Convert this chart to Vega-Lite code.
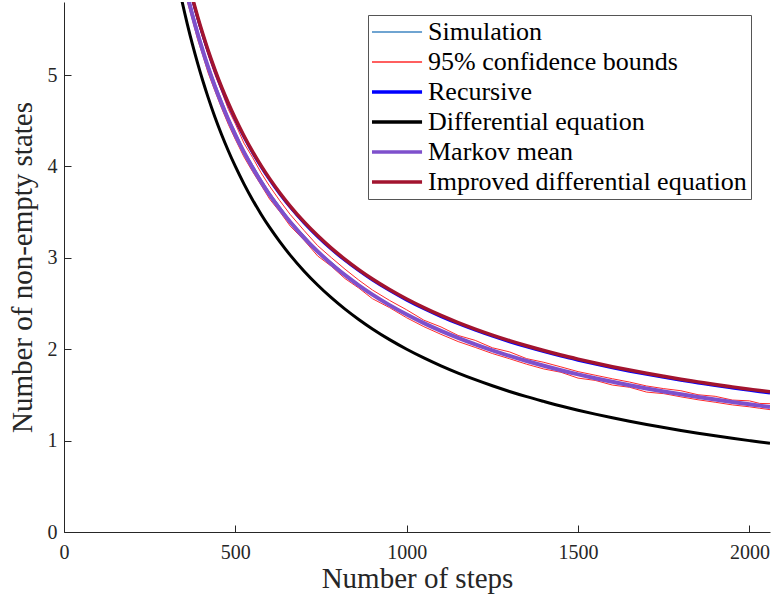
{
  "$schema": "https://vega.github.io/schema/vega-lite/v6.json",
  "width": 706,
  "height": 530,
  "autosize": "none",
  "padding": {"left": 64, "top": 2, "right": 4, "bottom": 72},
  "config": {
    "font": "Liberation Serif",
    "view": {"stroke": null},
    "axis": {
      "grid": false,
      "domainColor": "#262626",
      "domainWidth": 1,
      "tickColor": "#262626",
      "tickWidth": 1,
      "tickSize": -7,
      "labelColor": "#262626",
      "titleColor": "#262626",
      "labelFont": "Liberation Serif",
      "titleFont": "Liberation Serif",
      "labelFontSize": 20,
      "titleFontSize": 29,
      "titleFontWeight": "normal",
      "labelFlush": false
    },
    "legend": {
      "orient": "none",
      "legendX": 304,
      "legendY": 13,
      "symbolType": "M-1,0H2.85",
      "symbolSize": 676,
      "symbolFillColor": "transparent",
      "rowPadding": 4,
      "padding": 4,
      "labelOffset": 30,
      "labelFont": "Liberation Serif",
      "labelFontSize": 26,
      "labelColor": "#000000",
      "strokeColor": "#555555",
      "fillColor": "#ffffff",
      "labelLimit": 400
    }
  },
  "data": {
    "values": [
      {"x": 330, "sim": 6.408, "hi": 6.521, "lo": 6.296, "rec": 6.548, "de": 6.061, "mm": 6.368, "ide": 6.560},
      {"x": 345, "sim": 6.154, "hi": 6.259, "lo": 6.050, "rec": 6.288, "de": 5.797, "mm": 6.109, "ide": 6.300},
      {"x": 360, "sim": 5.908, "hi": 6.016, "lo": 5.801, "rec": 6.049, "de": 5.556, "mm": 5.872, "ide": 6.061},
      {"x": 375, "sim": 5.699, "hi": 5.799, "lo": 5.600, "rec": 5.830, "de": 5.333, "mm": 5.653, "ide": 5.842},
      {"x": 390, "sim": 5.490, "hi": 5.593, "lo": 5.388, "rec": 5.627, "de": 5.128, "mm": 5.452, "ide": 5.639},
      {"x": 405, "sim": 5.309, "hi": 5.404, "lo": 5.215, "rec": 5.440, "de": 4.938, "mm": 5.265, "ide": 5.452},
      {"x": 420, "sim": 5.126, "hi": 5.224, "lo": 5.029, "rec": 5.265, "de": 4.762, "mm": 5.092, "ide": 5.277},
      {"x": 440, "sim": 4.918, "hi": 5.007, "lo": 4.830, "rec": 5.052, "de": 4.545, "mm": 4.880, "ide": 5.064},
      {"x": 460, "sim": 4.728, "hi": 4.820, "lo": 4.637, "rec": 4.856, "de": 4.348, "mm": 4.686, "ide": 4.868},
      {"x": 480, "sim": 4.538, "hi": 4.621, "lo": 4.456, "rec": 4.678, "de": 4.167, "mm": 4.508, "ide": 4.690},
      {"x": 500, "sim": 4.381, "hi": 4.467, "lo": 4.296, "rec": 4.513, "de": 4.000, "mm": 4.344, "ide": 4.525},
      {"x": 525, "sim": 4.180, "hi": 4.256, "lo": 4.105, "rec": 4.325, "de": 3.810, "mm": 4.157, "ide": 4.337},
      {"x": 550, "sim": 4.022, "hi": 4.100, "lo": 3.945, "rec": 4.154, "de": 3.636, "mm": 3.987, "ide": 4.166},
      {"x": 575, "sim": 3.863, "hi": 3.931, "lo": 3.796, "rec": 3.998, "de": 3.478, "mm": 3.832, "ide": 4.010},
      {"x": 600, "sim": 3.713, "hi": 3.784, "lo": 3.643, "rec": 3.855, "de": 3.333, "mm": 3.689, "ide": 3.867},
      {"x": 630, "sim": 3.563, "hi": 3.624, "lo": 3.503, "rec": 3.698, "de": 3.175, "mm": 3.533, "ide": 3.710},
      {"x": 660, "sim": 3.411, "hi": 3.475, "lo": 3.348, "rec": 3.555, "de": 3.030, "mm": 3.392, "ide": 3.567},
      {"x": 700, "sim": 3.248, "hi": 3.302, "lo": 3.195, "rec": 3.384, "de": 2.857, "mm": 3.222, "ide": 3.396},
      {"x": 740, "sim": 3.077, "hi": 3.134, "lo": 3.021, "rec": 3.232, "de": 2.703, "mm": 3.070, "ide": 3.244},
      {"x": 780, "sim": 2.955, "hi": 3.003, "lo": 2.908, "rec": 3.095, "de": 2.564, "mm": 2.934, "ide": 3.107},
      {"x": 820, "sim": 2.824, "hi": 2.876, "lo": 2.773, "rec": 2.972, "de": 2.439, "mm": 2.811, "ide": 2.984},
      {"x": 860, "sim": 2.713, "hi": 2.757, "lo": 2.670, "rec": 2.860, "de": 2.326, "mm": 2.700, "ide": 2.872},
      {"x": 900, "sim": 2.600, "hi": 2.648, "lo": 2.553, "rec": 2.757, "de": 2.222, "mm": 2.598, "ide": 2.769},
      {"x": 950, "sim": 2.494, "hi": 2.534, "lo": 2.455, "rec": 2.642, "de": 2.105, "mm": 2.483, "ide": 2.654},
      {"x": 1000, "sim": 2.387, "hi": 2.431, "lo": 2.344, "rec": 2.538, "de": 2.000, "mm": 2.380, "ide": 2.550},
      {"x": 1050, "sim": 2.282, "hi": 2.318, "lo": 2.247, "rec": 2.444, "de": 1.905, "mm": 2.286, "ide": 2.456},
      {"x": 1100, "sim": 2.203, "hi": 2.244, "lo": 2.163, "rec": 2.358, "de": 1.818, "mm": 2.201, "ide": 2.370},
      {"x": 1150, "sim": 2.117, "hi": 2.151, "lo": 2.084, "rec": 2.280, "de": 1.739, "mm": 2.124, "ide": 2.292},
      {"x": 1200, "sim": 2.058, "hi": 2.097, "lo": 2.020, "rec": 2.209, "de": 1.667, "mm": 2.053, "ide": 2.221},
      {"x": 1250, "sim": 1.984, "hi": 2.016, "lo": 1.953, "rec": 2.143, "de": 1.600, "mm": 1.987, "ide": 2.155},
      {"x": 1300, "sim": 1.933, "hi": 1.971, "lo": 1.896, "rec": 2.082, "de": 1.538, "mm": 1.927, "ide": 2.094},
      {"x": 1350, "sim": 1.866, "hi": 1.897, "lo": 1.836, "rec": 2.026, "de": 1.481, "mm": 1.871, "ide": 2.038},
      {"x": 1400, "sim": 1.820, "hi": 1.857, "lo": 1.784, "rec": 1.974, "de": 1.429, "mm": 1.819, "ide": 1.986},
      {"x": 1450, "sim": 1.777, "hi": 1.807, "lo": 1.748, "rec": 1.925, "de": 1.379, "mm": 1.770, "ide": 1.937},
      {"x": 1500, "sim": 1.719, "hi": 1.755, "lo": 1.684, "rec": 1.880, "de": 1.333, "mm": 1.725, "ide": 1.892},
      {"x": 1550, "sim": 1.687, "hi": 1.716, "lo": 1.659, "rec": 1.837, "de": 1.290, "mm": 1.683, "ide": 1.849},
      {"x": 1600, "sim": 1.642, "hi": 1.677, "lo": 1.608, "rec": 1.797, "de": 1.250, "mm": 1.644, "ide": 1.809},
      {"x": 1650, "sim": 1.612, "hi": 1.641, "lo": 1.584, "rec": 1.760, "de": 1.212, "mm": 1.606, "ide": 1.772},
      {"x": 1700, "sim": 1.564, "hi": 1.598, "lo": 1.531, "rec": 1.725, "de": 1.176, "mm": 1.571, "ide": 1.737},
      {"x": 1750, "sim": 1.541, "hi": 1.569, "lo": 1.514, "rec": 1.692, "de": 1.143, "mm": 1.538, "ide": 1.704},
      {"x": 1800, "sim": 1.512, "hi": 1.546, "lo": 1.479, "rec": 1.660, "de": 1.111, "mm": 1.507, "ide": 1.672},
      {"x": 1850, "sim": 1.474, "hi": 1.502, "lo": 1.447, "rec": 1.631, "de": 1.081, "mm": 1.478, "ide": 1.643},
      {"x": 1900, "sim": 1.452, "hi": 1.485, "lo": 1.420, "rec": 1.602, "de": 1.053, "mm": 1.450, "ide": 1.614},
      {"x": 1950, "sim": 1.417, "hi": 1.444, "lo": 1.391, "rec": 1.576, "de": 1.026, "mm": 1.423, "ide": 1.588},
      {"x": 2000, "sim": 1.402, "hi": 1.435, "lo": 1.370, "rec": 1.551, "de": 1.000, "mm": 1.398, "ide": 1.563},
      {"x": 2030, "sim": 1.380, "hi": 1.407, "lo": 1.354, "rec": 1.536, "de": 0.985, "mm": 1.383, "ide": 1.548},
      {"x": 2060, "sim": 1.371, "hi": 1.404, "lo": 1.339, "rec": 1.522, "de": 0.971, "mm": 1.369, "ide": 1.534}
    ]
  },
  "encoding": {
    "x": {
      "field": "x",
      "type": "quantitative",
      "scale": {"domain": [0, 2060], "nice": false, "zero": false},
      "axis": {"values": [0, 500, 1000, 1500, 2000], "format": "d", "title": "Number of steps", "labelPadding": 17, "titlePadding": 2}
    }
  },
  "layer": [
    {
      "mark": {"type": "line", "clip": true, "strokeWidth": 1},
      "encoding": {
        "y": {
          "field": "sim",
          "type": "quantitative",
          "scale": {"domain": [0, 5.8], "nice": false},
          "axis": {"values": [0, 1, 2, 3, 4, 5], "format": "d", "title": "Number of non-empty states", "labelPadding": 14, "titlePadding": 10}
        },
        "color": {
          "datum": "Simulation",
          "type": "nominal",
          "scale": {
            "domain": ["Simulation", "95% confidence bounds", "Recursive", "Differential equation", "Markov mean", "Improved differential equation"],
            "range": ["#3f86c2", "#ff2a2a", "#0000ff", "#000000", "#7e50cc", "#a2142f"]
          },
          "legend": {
            "title": null,
            "encode": {
              "symbols": {
                "update": {
                  "stroke": {"scale": "color", "field": "value"},
                  "strokeWidth": {"signal": "indexof(['Simulation', '95% confidence bounds'], datum.value) >= 0 ? 1.5 : 3.5"}
                }
              }
            }
          }
        }
      }
    },
    {
      "mark": {"type": "line", "clip": true, "strokeWidth": 1},
      "encoding": {
        "y": {"field": "hi", "type": "quantitative"},
        "color": {"datum": "95% confidence bounds", "type": "nominal"}
      }
    },
    {
      "mark": {"type": "line", "clip": true, "strokeWidth": 1},
      "encoding": {
        "y": {"field": "lo", "type": "quantitative"},
        "color": {"datum": "95% confidence bounds", "type": "nominal"}
      }
    },
    {
      "mark": {"type": "line", "clip": true, "strokeWidth": 3, "interpolate": "monotone"},
      "encoding": {
        "y": {"field": "rec", "type": "quantitative"},
        "color": {"datum": "Recursive", "type": "nominal"}
      }
    },
    {
      "mark": {"type": "line", "clip": true, "strokeWidth": 3, "interpolate": "monotone"},
      "encoding": {
        "y": {"field": "de", "type": "quantitative"},
        "color": {"datum": "Differential equation", "type": "nominal"}
      }
    },
    {
      "mark": {"type": "line", "clip": true, "strokeWidth": 4, "interpolate": "monotone"},
      "encoding": {
        "y": {"field": "mm", "type": "quantitative"},
        "color": {"datum": "Markov mean", "type": "nominal"}
      }
    },
    {
      "mark": {"type": "line", "clip": true, "strokeWidth": 3.5, "interpolate": "monotone"},
      "encoding": {
        "y": {"field": "ide", "type": "quantitative"},
        "color": {"datum": "Improved differential equation", "type": "nominal"}
      }
    }
  ]
}
